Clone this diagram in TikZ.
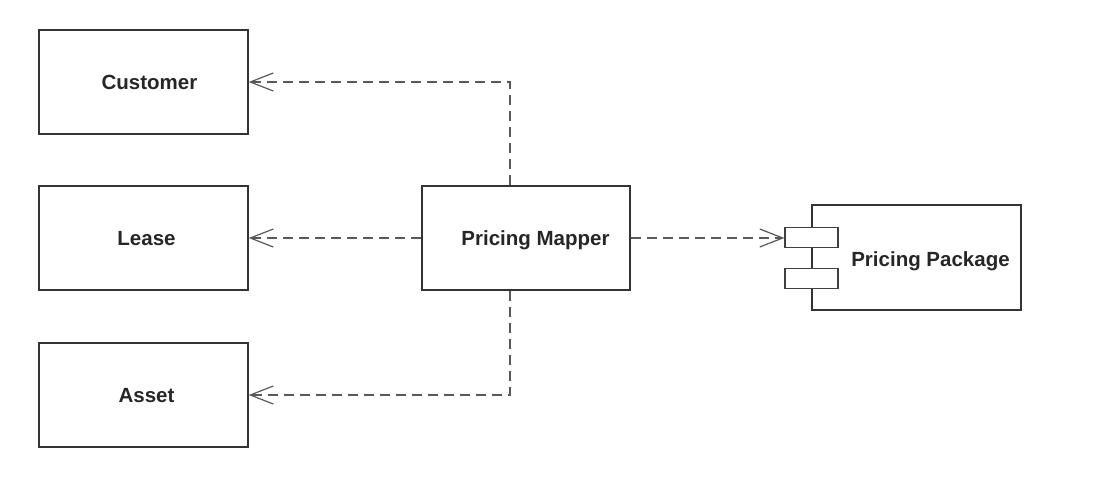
\documentclass[tikz,border=0pt]{standalone}
\usepackage{fontspec}
\setmainfont{Liberation Sans}
\usetikzlibrary{arrows.meta}
\begin{document}
\begin{tikzpicture}[x=1pt,y=-1pt,
  box/.style={draw=black!80,line width=1.3pt,rectangle,inner sep=0pt},
  tab/.style={draw=black!75,line width=1.2pt,fill=white,rectangle,inner sep=0pt,minimum width=53pt,minimum height=20.5pt},
  lbl/.style={font=\fontsize{20.5}{24}\selectfont\bfseries,text=black!85,inner sep=0pt,anchor=base},
  dep/.style={draw=black!65,line width=1.3pt,dash pattern=on 10pt off 6pt,
    -{Straight Barb[length=23pt,width=18pt,line width=1.2pt]}}]
\useasboundingbox (0,0) rectangle (1117,483);
% classes
\node[box,minimum width=209pt,minimum height=104pt] (customer) at (143.5,82) {};
\node[box,minimum width=209pt,minimum height=104pt] (lease) at (143.5,238) {};
\node[box,minimum width=209pt,minimum height=104pt] (asset) at (143.5,395) {};
\node[box,minimum width=208pt,minimum height=104pt] (mapper) at (526,238) {};
% component
\node[box,minimum width=209pt,minimum height=105pt] (package) at (916.5,257.5) {};
\node[tab] (port1) at (811.5,237.5) {};
\node[tab] (port2) at (811.5,278.5) {};
% labels (placed on their baselines)
\node[lbl] (tcustomer) at (149.5,89.5) {Customer};
\node[lbl] (tlease) at (146.5,245.5) {Lease};
\node[lbl] (tasset) at (146.5,402.5) {Asset};
\node[lbl] (tmapper) at (535.5,245.5) {Pricing Mapper};
\node[lbl] (tpackage) at (930.5,266) {Pricing Package};
% dependencies
\coordinate (up) at (510,82);
\coordinate (down) at (510,395);
\draw[dep] (mapper.north -| up) -- (up) -- (customer.east |- up);
\draw[dep] (mapper.west) -- (lease.east);
\draw[dep] (mapper.south -| down) -- (down) -- (asset.east |- down);
\draw[dep] (mapper.east) -- (port1.west |- mapper.east);
\end{tikzpicture}
\end{document}
